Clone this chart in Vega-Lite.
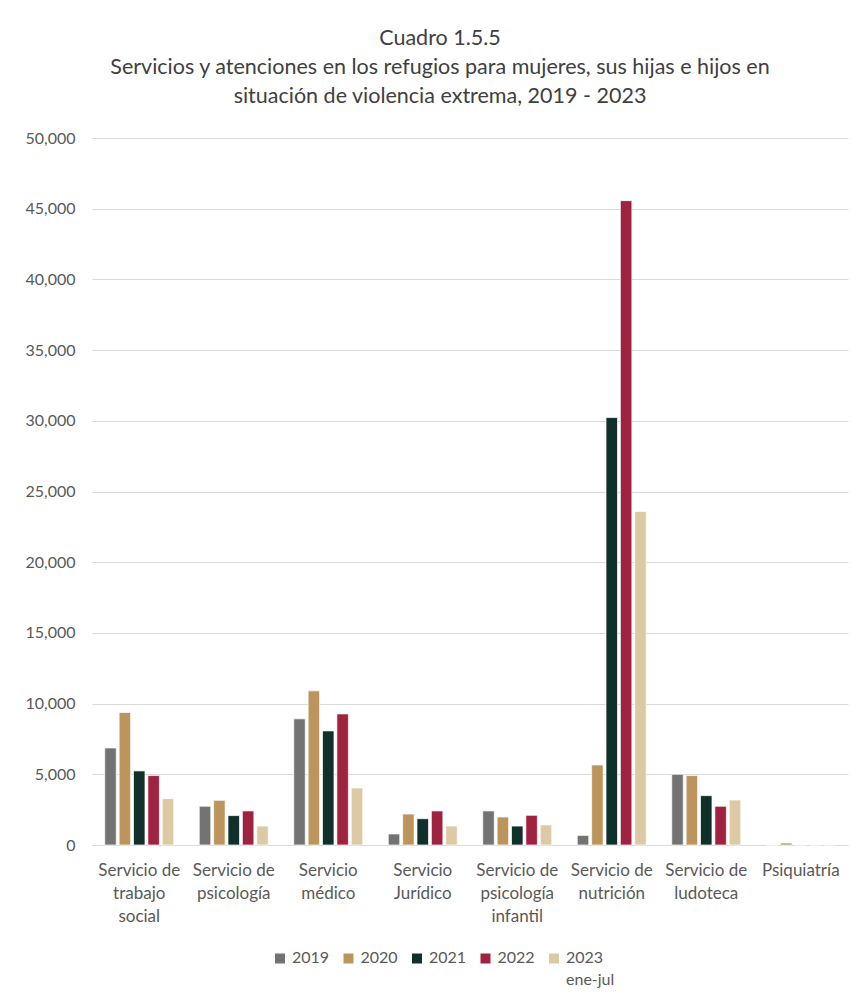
{
  "$schema": "https://vega.github.io/schema/vega-lite/v6.json",
  "width": 756,
  "height": 707,
  "autosize": "none",
  "padding": {"left": 92, "top": 138, "right": 6, "bottom": 157},
  "background": "white",
  "config": {
    "font": "Lato",
    "view": {"stroke": null},
    "style": {"guide-label": {"lineHeight": 22}}
  },
  "title": {
    "text": ["Cuadro 1.5.5", "Servicios y atenciones en los refugios para mujeres, sus hijas e hijos en", "situación de violencia extrema, 2019 - 2023"],
    "fontSize": 21.5,
    "fontWeight": "normal",
    "color": "#404040",
    "lineHeight": 29,
    "anchor": "middle",
    "dx": -30,
    "offset": 23
  },
  "data": {
    "values": [
      {"cat": "Servicio de trabajo social", "year": "2019", "value": 6860},
      {"cat": "Servicio de trabajo social", "year": "2020", "value": 9370},
      {"cat": "Servicio de trabajo social", "year": "2021", "value": 5240},
      {"cat": "Servicio de trabajo social", "year": "2022", "value": 4910},
      {"cat": "Servicio de trabajo social", "year": "2023", "value": 3280},
      {"cat": "Servicio de psicología", "year": "2019", "value": 2740},
      {"cat": "Servicio de psicología", "year": "2020", "value": 3160},
      {"cat": "Servicio de psicología", "year": "2021", "value": 2080},
      {"cat": "Servicio de psicología", "year": "2022", "value": 2410},
      {"cat": "Servicio de psicología", "year": "2023", "value": 1340},
      {"cat": "Servicio médico", "year": "2019", "value": 8920},
      {"cat": "Servicio médico", "year": "2020", "value": 10900},
      {"cat": "Servicio médico", "year": "2021", "value": 8070},
      {"cat": "Servicio médico", "year": "2022", "value": 9270},
      {"cat": "Servicio médico", "year": "2023", "value": 4030},
      {"cat": "Servicio Jurídico", "year": "2019", "value": 780},
      {"cat": "Servicio Jurídico", "year": "2020", "value": 2190},
      {"cat": "Servicio Jurídico", "year": "2021", "value": 1860},
      {"cat": "Servicio Jurídico", "year": "2022", "value": 2410},
      {"cat": "Servicio Jurídico", "year": "2023", "value": 1340},
      {"cat": "Servicio de psicología infantil", "year": "2019", "value": 2410},
      {"cat": "Servicio de psicología infantil", "year": "2020", "value": 1980},
      {"cat": "Servicio de psicología infantil", "year": "2021", "value": 1340},
      {"cat": "Servicio de psicología infantil", "year": "2022", "value": 2100},
      {"cat": "Servicio de psicología infantil", "year": "2023", "value": 1420},
      {"cat": "Servicio de nutrición", "year": "2019", "value": 680},
      {"cat": "Servicio de nutrición", "year": "2020", "value": 5660},
      {"cat": "Servicio de nutrición", "year": "2021", "value": 30230},
      {"cat": "Servicio de nutrición", "year": "2022", "value": 45570},
      {"cat": "Servicio de nutrición", "year": "2023", "value": 23590},
      {"cat": "Servicio de ludoteca", "year": "2019", "value": 5000},
      {"cat": "Servicio de ludoteca", "year": "2020", "value": 4910},
      {"cat": "Servicio de ludoteca", "year": "2021", "value": 3490},
      {"cat": "Servicio de ludoteca", "year": "2022", "value": 2740},
      {"cat": "Servicio de ludoteca", "year": "2023", "value": 3180},
      {"cat": "Psiquiatría", "year": "2019", "value": 0},
      {"cat": "Psiquiatría", "year": "2020", "value": 140},
      {"cat": "Psiquiatría", "year": "2021", "value": 0},
      {"cat": "Psiquiatría", "year": "2022", "value": 0},
      {"cat": "Psiquiatría", "year": "2023", "value": 0}
    ]
  },
  "mark": {"type": "bar", "stroke": "white", "strokeWidth": 1, "strokeOpacity": 0.7},
  "encoding": {
    "x": {
      "field": "cat",
      "type": "nominal",
      "sort": null,
      "scale": {"paddingInner": 0.27, "paddingOuter": 0.135},
      "axis": {
        "title": null,
        "labelAngle": 0,
        "ticks": false,
        "domainColor": "#d9d9d9",
        "domainWidth": 1,
        "labelFontSize": 17,
        "labelColor": "#595959",
        "labelPadding": 17,
        "labelLineHeight": 23,
        "labelLimit": 200,
        "labelExpr": "{'Servicio de trabajo social': ['Servicio de', 'trabajo', 'social'], 'Servicio de psicología': ['Servicio de', 'psicología'], 'Servicio médico': ['Servicio', 'médico'], 'Servicio Jurídico': ['Servicio', 'Jurídico'], 'Servicio de psicología infantil': ['Servicio de', 'psicología', 'infantil'], 'Servicio de nutrición': ['Servicio de', 'nutrición'], 'Servicio de ludoteca': ['Servicio de', 'ludoteca'], 'Psiquiatría': ['Psiquiatría']}[datum.label]"
      }
    },
    "xOffset": {"field": "year", "type": "nominal", "scale": {"paddingInner": 0.2}},
    "y": {
      "field": "value",
      "type": "quantitative",
      "scale": {"domain": [0, 50000]},
      "axis": {
        "title": null,
        "values": [0, 5000, 10000, 15000, 20000, 25000, 30000, 35000, 40000, 45000, 50000],
        "format": ",d",
        "domain": false,
        "ticks": false,
        "gridColor": "#d9d9d9",
        "labelFontSize": 16,
        "labelColor": "#595959",
        "labelPadding": 17
      }
    },
    "color": {
      "field": "year",
      "type": "nominal",
      "scale": {
        "domain": ["2019", "2020", "2021", "2022", "2023"],
        "range": ["#737373", "#BC955C", "#10312B", "#9F2241", "#DDC9A3"]
      },
      "legend": {
        "title": null,
        "orient": "none",
        "legendX": 180,
        "legendY": 804,
        "direction": "horizontal",
        "symbolType": "M-1,0.7H1V2.7H-1Z",
        "symbolSize": 100,
        "symbolStrokeWidth": 0,
        "labelFontSize": 16,
        "labelColor": "#595959",
        "labelOffset": 4,
        "labelBaseline": "top",
        "columnPadding": 10.5,
        "padding": 0,
        "labelExpr": "datum.label == '2023' ? ['2023', 'ene-jul'] : [datum.label, ' ']"
      }
    }
  }
}
